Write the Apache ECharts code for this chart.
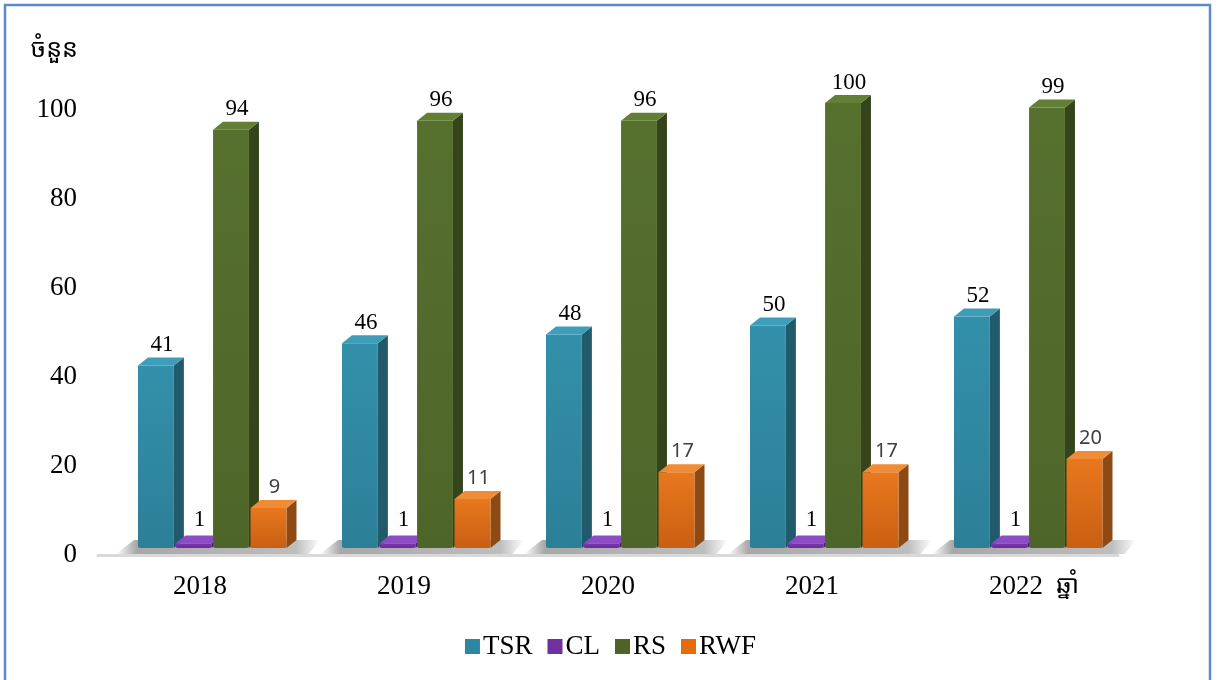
<!DOCTYPE html>
<html>
<head>
<meta charset="utf-8">
<script src="https://cdn.jsdelivr.net/npm/echarts@6/dist/echarts.min.js"></script>
<style>
  html, body { margin: 0; padding: 0; background: #fff; }
  #chart { width: 1221px; height: 680px; }
</style>
</head>
<body>
<div id="chart"></div>
<script>
const years = ['2018', '2019', '2020', '2021', '2022'];
const seriesNames = ['TSR', 'CL', 'RS', 'RWF'];
const tsr = [41, 46, 48, 50, 52];
const cl = [1, 1, 1, 1, 1];
const rs = [94, 96, 96, 100, 99];
const rwf = [9, 11, 17, 17, 20];
const yTicks = [0, 20, 40, 60, 80, 100];

const serif = "'Liberation Serif', 'Times New Roman', serif";
const khmer = "'Khmer OS', 'Noto Sans Khmer', 'Noto Serif Khmer', 'Liberation Serif', serif";

// front / side / top colours for each series
const palette = [
    { front: ['#3390AA', '#2C7F97'], side: '#215A6A', top: '#3E9DB8', legend: '#2F86A0' },
    { front: ['#7A36B0', '#6A2C9C'], side: '#4A1F6E', top: '#8C4CC4', legend: '#7030A0' },
    { front: ['#56702E', '#4E6529'], side: '#35441B', top: '#637F36', legend: '#4F6228' },
    { front: ['#E8781E', '#C95F12'], side: '#8E4A14', top: '#F08C36', legend: '#E46C0A' }
];
const labelStyles = [
    { font: serif, size: 23, color: '#000', extra: -2 },
    { font: serif, size: 23, color: '#000', extra: 1 },
    { font: serif, size: 23, color: '#000', extra: -2 },
    { font: "'Noto Sans', 'Open Sans', sans-serif", size: 20, color: '#404040', extra: 0 }
];

const LIFT = 7;    // front face sits a little above the floor line
const DX = 10;     // depth offset right
const DY = 8;      // depth offset up

function barRenderer(sIdx) {
    return function (params, api) {
        const ci = api.value(0);
        const v = api.value(1);
        const base = api.coord([ci, 0]);
        const top = api.coord([ci, v]);
        const band = api.size([1, 0])[0];
        const w = band * 0.176;
        const pitch = band * 0.184;
        const left = base[0] - band * 0.304 + sIdx * pitch;
        const yb = base[1] - LIFT;
        const yt = top[1] - LIFT;
        const c = palette[sIdx];
        const ls = labelStyles[sIdx];
        return {
            type: 'group',
            children: [
                {
                    type: 'polygon',
                    shape: { points: [[left + w, yt], [left + w + DX, yt - DY], [left + w + DX, yb - DY], [left + w, yb]] },
                    style: { fill: c.side }
                },
                {
                    type: 'rect',
                    shape: { x: left, y: yt, width: w, height: yb - yt, r: [0, 0, 2, 2] },
                    style: {
                        fill: { type: 'linear', x: 0, y: 0, x2: 0, y2: 1, colorStops: [{ offset: 0, color: c.front[0] }, { offset: 1, color: c.front[1] }] }
                    }
                },
                {
                    type: 'polygon',
                    shape: { points: [[left, yt], [left + DX, yt - DY], [left + w + DX, yt - DY], [left + w, yt]] },
                    style: { fill: c.top }
                },
                {
                    type: 'text',
                    x: left + (w + DX) / 2 + 1,
                    y: yt - DY - 3 - ls.extra,
                    style: {
                        text: String(v),
                        fontFamily: ls.font,
                        fontSize: ls.size,
                        fill: ls.color,
                        align: 'center',
                        verticalAlign: 'bottom'
                    }
                }
            ]
        };
    };
}

function floorRenderer(params, api) {
    const ci = api.value(0);
    const base = api.coord([ci, 0]);
    const band = api.size([1, 0])[0];
    const left = base[0] - band * 0.304;
    const right = left + band * 0.184 * 3 + band * 0.176 + DX;
    const yb = base[1] - 1;
    return {
        type: 'polygon',
        shape: { points: [[left - 22, yb], [left - 4, yb - 14], [right + 24, yb - 14], [right + 12, yb]] },
        style: {
            fill: {
                type: 'linear', x: 0, y: 0, x2: 1, y2: 0,
                colorStops: [
                    { offset: 0, color: 'rgba(110,110,110,0)' },
                    { offset: 0.1, color: 'rgba(110,110,110,0.6)' },
                    { offset: 0.88, color: 'rgba(110,110,110,0.45)' },
                    { offset: 1, color: 'rgba(110,110,110,0)' }
                ]
            }
        }
    };
}

const values = [tsr, cl, rs, rwf];
const barSeries = seriesNames.map((name, i) => ({
    name: name,
    type: 'custom',
    renderItem: barRenderer(i),
    itemStyle: { color: palette[i].legend },
    encode: { x: 0, y: 1 },
    z: 3,
    data: values[i].map((v, k) => [k, v])
}));

const chart = echarts.init(document.getElementById('chart'));
chart.setOption({
    backgroundColor: '#fff',
    animation: false,
    graphic: [{
        type: 'rect',
        shape: { x: 5, y: 5, width: 1205, height: 720 },
        style: { fill: 'none', stroke: '#5A8BD2', lineWidth: 2.5 },
        silent: true
    }],
    grid: { left: 98, right: 103, top: 110, bottom: 125 },
    legend: {
        data: seriesNames,
        left: 'center',
        top: 628,
        icon: 'rect',
        itemWidth: 15,
        itemHeight: 15,
        itemGap: 15,
        textStyle: { fontFamily: serif, fontSize: 27, color: '#000', padding: [0, 0, 0, -2] }
    },
    xAxis: {
        type: 'category',
        data: years,
        name: 'ឆ្នាំ',
        nameLocation: 'end',
        nameGap: -62,
        nameTextStyle: { fontFamily: khmer, fontSize: 25, color: '#000', align: 'left', verticalAlign: 'top', padding: [18, 0, 0, 0] },
        axisLine: { lineStyle: { color: '#D9D9D9', width: 3 } },
        axisTick: { show: false },
        axisLabel: { fontFamily: serif, fontSize: 27, color: '#000', margin: 18 }
    },
    yAxis: {
        type: 'value',
        min: yTicks[0],
        max: yTicks[yTicks.length - 1],
        interval: 20,
        name: 'ចំនួន',
        nameLocation: 'end',
        nameGap: 48,
        nameTextStyle: { fontFamily: khmer, fontSize: 25, color: '#000', align: 'right', padding: [0, 20, 0, 0] },
        axisLine: { show: false },
        axisTick: { show: false },
        splitLine: { show: false },
        axisLabel: { fontFamily: serif, fontSize: 27, color: '#000', margin: 21 }
    },
    series: [{
        name: 'floor',
        type: 'custom',
        renderItem: floorRenderer,
        silent: true,
        z: 1,
        encode: { x: 0, y: 1 },
        data: years.map((y, k) => [k, 0])
    }].concat(barSeries)
});
</script>
</body>
</html>
